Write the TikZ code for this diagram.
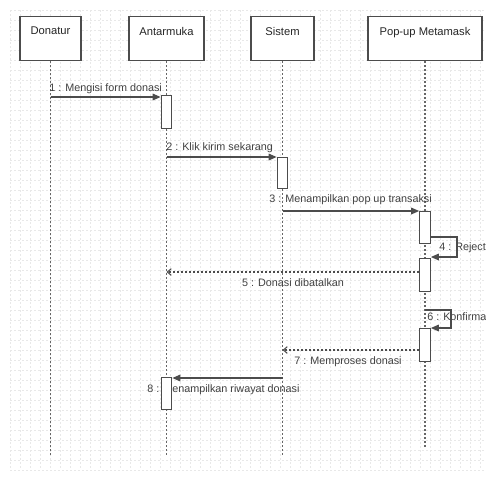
\documentclass[tikz,border=0pt]{standalone}
\usepackage{fontspec}
\setmainfont{Liberation Sans}
\usetikzlibrary{arrows.meta}
\begin{document}
\begin{tikzpicture}[x=0.75pt,y=-0.75pt,
  gridline/.style={draw=black!9, line width=0.4pt, dash pattern=on 1.5pt off 1.5pt},
  head/.style={draw=black!70, line width=0.9pt, fill=white, inner sep=0pt,
    minimum height=44*0.75pt, anchor=north},
  headtext/.style={font=\fontsize{8.4}{10}\selectfont, text=black!85, inner sep=0pt},
  life/.style={draw=black!60, line width=0.8pt, dash pattern=on 1.5pt off 1.5pt},
  act/.style={draw=black!70, line width=0.9pt, fill=white, inner sep=0pt,
    minimum width=10.5*0.75pt, anchor=north},
  sync/.style={draw=black!70, line width=0.9pt, -{Triangle[length=6pt,width=5pt]}},
  ret/.style={draw=black!70, line width=0.8pt, dash pattern=on 1.5pt off 1.5pt,
    -{Straight Barb[length=3pt,width=5pt]}},
  msgtext/.style={font=\fontsize{8.1}{10}\selectfont, text=black!75, inner sep=0pt}]
\useasboundingbox (0,0) rectangle (486,480);
% background grid
\foreach \gx in {10,20,...,480} \draw[gridline] (\gx,10) -- (\gx,470);
\foreach \gy in {10,20,...,470} \draw[gridline] (10,\gy) -- (486,\gy);
% heads
\node[head, minimum width=61*0.75pt,
  label={[headtext, anchor=north, yshift=-11*0.75pt]north:Donatur}] (don) at (50.5,16) {};
\node[head, minimum width=75*0.75pt,
  label={[headtext, anchor=north, yshift=-11*0.75pt]north:Antarmuka}] (ant) at (166.5,16) {};
\node[head, minimum width=63*0.75pt,
  label={[headtext, anchor=north, yshift=-11*0.75pt]north:Sistem}] (sis) at (282.5,16) {};
\node[head, minimum width=114*0.75pt,
  label={[headtext, anchor=north, yshift=-11*0.75pt]north:Pop-up Metamask}] (pop) at (425,16) {};
% lifeline ends
\coordinate (donE) at (50.5,455);
\coordinate (antE) at (166.5,455);
\coordinate (sisE) at (282.5,456);
\coordinate (popE) at (425,448);
\draw[life] (don.south) -- (donE);
\draw[life] (ant.south) -- (antE);
\draw[life] (sis.south) -- (sisE);
\draw[life] (pop.south) -- (popE);
% labels
\node[msgtext, anchor=base west] (l1) at (49,91) {1 : Mengisi form donasi};
\node[msgtext, anchor=base west] (l2) at (166,150) {2 : Klik kirim sekarang};
\node[msgtext, anchor=base west] (l3) at (269,202.5) {3 : Menampilkan pop up transaksi};
\node[msgtext, anchor=base west] (l4) at (439,250.5) {4 : Reject};
\node[msgtext] (l5) at (293,283) {5 : Donasi dibatalkan};
\node[msgtext, anchor=base west] (l6) at (427,320) {6 : Konfirmasi};
\node[msgtext] (l7) at (348,362) {7 : Memproses donasi};
\node[msgtext, anchor=base west] (l8) at (147,392.5) {8 : Menampilkan riwayat donasi};
% activations
\node[act, minimum height=33*0.75pt] (a1) at (166.5,95) {};
\node[act, minimum height=31*0.75pt] (a2) at (282.5,157) {};
\node[act, minimum height=32*0.75pt] (a3) at (425,211) {};
\node[act, minimum height=33*0.75pt] (a4) at (425,258) {};
\node[act, minimum height=33*0.75pt] (a5) at (425,328) {};
\node[act, minimum height=32*0.75pt] (a6) at (166.5,377) {};
% message levels
\coordinate (m1) at (50.5,97);
\coordinate (m2) at (166.5,157);
\coordinate (m3) at (282.5,211);
\coordinate (m5) at (166.5,272);
\coordinate (m7) at (282.5,350);
\coordinate (m8) at (282.5,378);
\coordinate (r4a) at (457,237);
\coordinate (r4b) at (457,257);
\coordinate (r6s) at (425,310);
\coordinate (r6a) at (451,310);
\coordinate (r6b) at (451,328);
% messages
\draw[sync] (m1) -- (m1 -| a1.west);
\draw[sync] (m2) -- (m2 -| a2.west);
\draw[sync] (m3) -- (m3 -| a3.west);
\draw[sync] (r4a -| a3.east) -- (r4a) -- (r4b) -- (r4b -| a4.east);
\draw[ret] (m5 -| a4.west) -- (m5);
\draw[sync] (r6s) -- (r6a) -- (r6b) -- (r6b -| a5.east);
\draw[ret] (m7 -| a5.west) -- (m7);
\draw[sync] (m8) -- (m8 -| a6.east);
\end{tikzpicture}
\end{document}
